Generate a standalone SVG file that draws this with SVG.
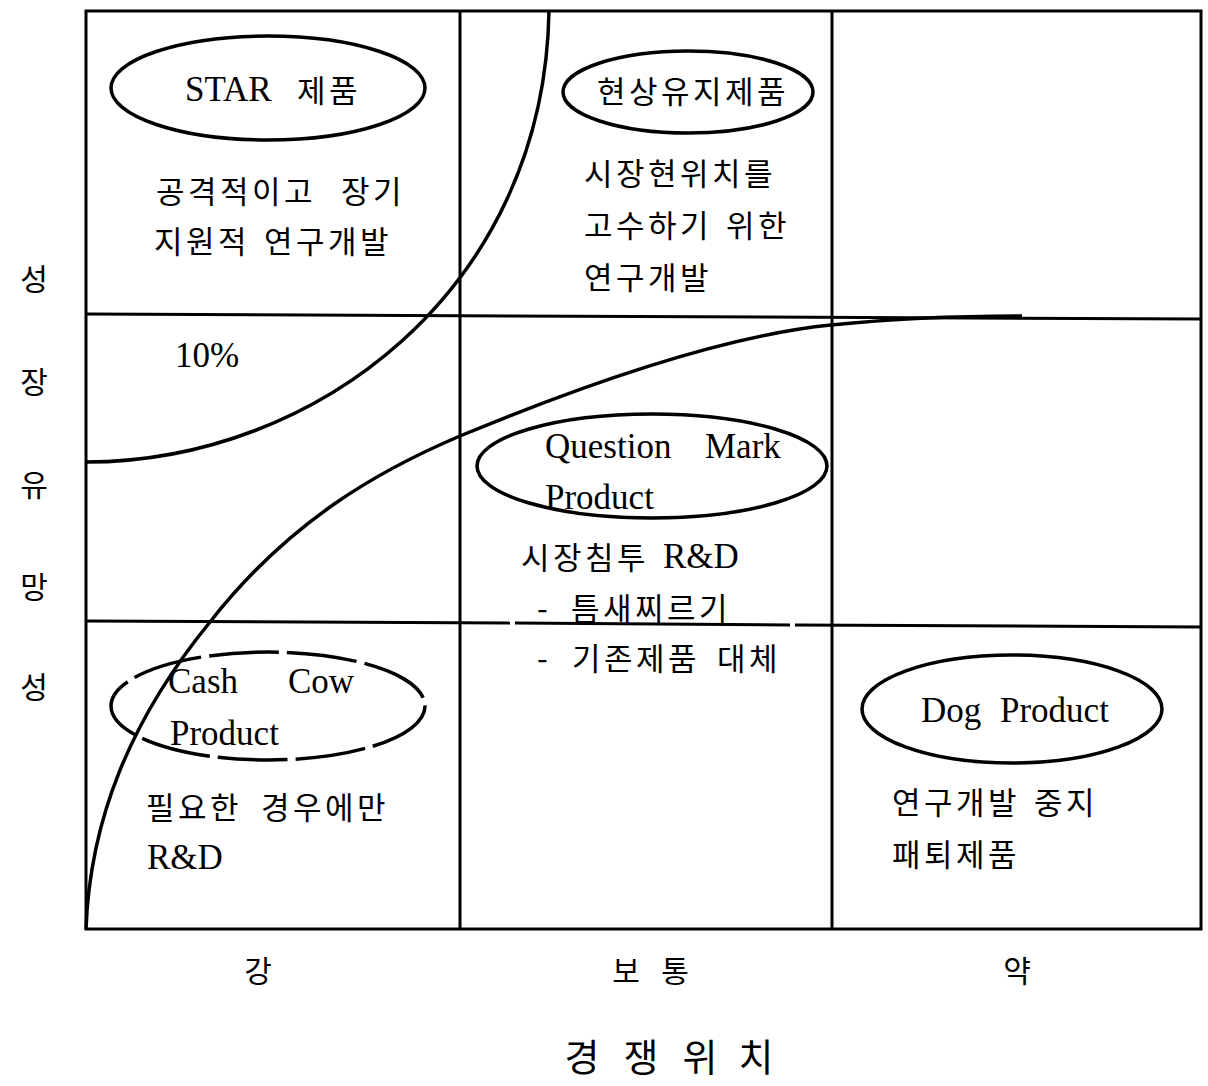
<svg xmlns="http://www.w3.org/2000/svg" width="1208" height="1086" viewBox="0 0 1208 1086">
<style>
.ln{fill:none;stroke:#000;stroke-width:3}
.cv{fill:none;stroke:#000;stroke-width:3.5}
.el{fill:none;stroke:#000;stroke-width:3.5}
.dash{stroke-dasharray:70 8}
text{font-family:"Liberation Serif","Noto Sans CJK KR",serif;fill:#000}
.e{font-size:35px}
.k{font-family:"Noto Sans CJK KR","Liberation Sans",sans-serif;font-size:31px;letter-spacing:3.5px}
.ax{font-family:"Noto Sans CJK KR",sans-serif;font-size:30px;text-anchor:middle}
.ttl{font-family:"Noto Sans CJK KR",sans-serif;font-size:38px;text-anchor:middle}
</style>
<rect width="1208" height="1086" fill="#fff"/>
<g id="grid">
<rect x="86" y="11" width="1115" height="918" class="ln"/>
<line x1="460" y1="11" x2="460" y2="929" class="ln"/>
<line x1="832" y1="11" x2="832" y2="929" class="ln"/>
<line x1="86" y1="314" x2="1201" y2="319" class="ln"/>
<line x1="86" y1="621" x2="510" y2="623" class="ln"/>
<line x1="515" y1="623" x2="790" y2="625" class="ln"/>
<line x1="795" y1="625" x2="1201" y2="627" class="ln"/>
</g>
<g id="connectors">
<path class="cv" d="M549,10 C545,290 315,462 86,462"/>
<path class="cv" d="M86,929 C90,820 130,720 210,622 C290,520 380,470 460,436 C600,378 730,335 831,325 C900,318 960,316 1022,316"/>
</g>
<g id="star">
<ellipse cx="268" cy="88" rx="157" ry="52" class="el"/>
<text class="e" x="185" y="101">STAR</text>
<text class="k" x="297" y="102">제품</text>
<text class="k" x="156" y="203">공격적이고</text>
<text class="k" x="341" y="203">장기</text>
<text class="k" x="154" y="253">지원적</text>
<text class="k" x="264" y="253">연구개발</text>
</g>
<g id="hold">
<ellipse cx="688" cy="92" rx="125" ry="41" class="el"/>
<text class="k" x="597" y="103">현상유지제품</text>
<text class="k" x="584" y="185">시장현위치를</text>
<text class="k" x="584" y="237">고수하기</text>
<text class="k" x="726" y="237">위한</text>
<text class="k" x="584" y="289">연구개발</text>
</g>
<g id="pct">
<text class="e" x="175" y="367">10%</text>
</g>
<g id="question">
<ellipse cx="652" cy="466" rx="175" ry="52" class="el"/>
<text class="e" x="545" y="458">Question</text>
<text class="e" x="705" y="458">Mark</text>
<text class="e" x="545" y="509">Product</text>
<text class="k" x="521" y="569">시장침투</text>
<text class="e" x="663" y="568">R&amp;D</text>
<text class="k" x="537" y="620">-</text>
<text class="k" x="571" y="620">틈새찌르기</text>
<text class="k" x="537" y="670">-</text>
<text class="k" x="572" y="670">기존제품</text>
<text class="k" x="717" y="670">대체</text>
</g>
<g id="cashcow">
<ellipse cx="268" cy="706" rx="157" ry="54" class="el dash"/>
<text class="e" x="168" y="693">Cash</text>
<text class="e" x="288" y="693">Cow</text>
<text class="e" x="170" y="745">Product</text>
<text class="k" x="146" y="819">필요한</text>
<text class="k" x="261" y="819">경우에만</text>
<text class="e" x="147" y="869">R&amp;D</text>
</g>
<g id="dog">
<ellipse cx="1012" cy="709" rx="150" ry="54" class="el"/>
<text class="e" x="921" y="722">Dog</text>
<text class="e" x="1000" y="722">Product</text>
<text class="k" x="892" y="814">연구개발</text>
<text class="k" x="1034" y="814">중지</text>
<text class="k" x="892" y="866">패퇴제품</text>
</g>
<g id="y-axis">
<text class="ax" x="34" y="290">성</text>
<text class="ax" x="34" y="393">장</text>
<text class="ax" x="34" y="496">유</text>
<text class="ax" x="34" y="598">망</text>
<text class="ax" x="34" y="698">성</text>
</g>
<g id="x-axis">
<text class="ax" x="258" y="982">강</text>
<text class="ax" y="982"><tspan x="626">보</tspan><tspan x="675">통</tspan></text>
<text class="ax" x="1017" y="982">약</text>
<text class="ttl" y="1071"><tspan x="582">경</tspan><tspan x="641">쟁</tspan><tspan x="700">위</tspan><tspan x="756">치</tspan></text>
</g>
</svg>
